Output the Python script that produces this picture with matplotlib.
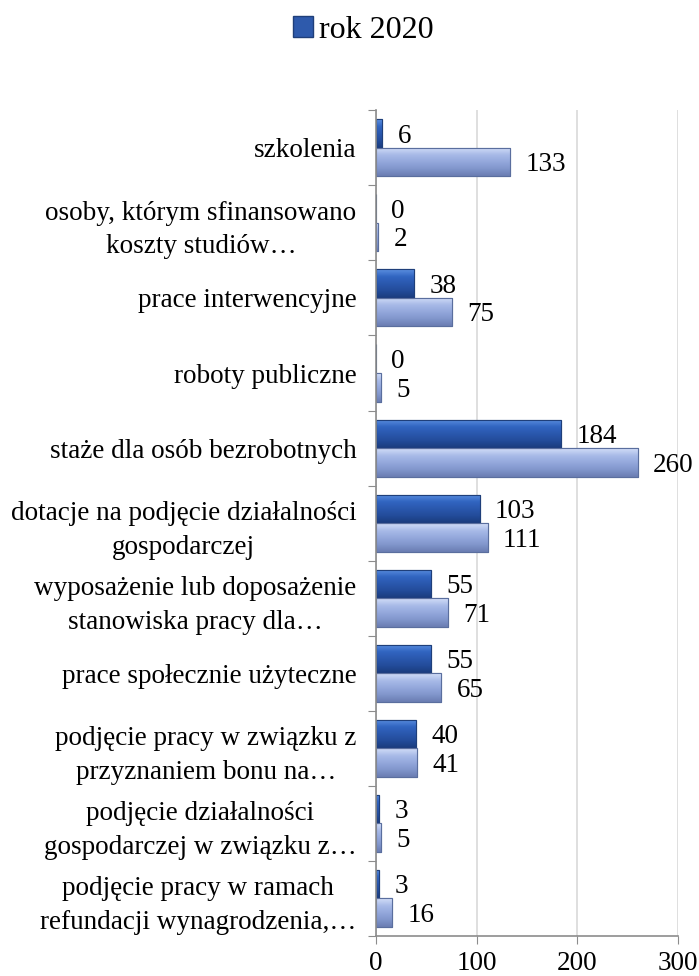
import matplotlib
matplotlib.use("Agg")
import matplotlib.pyplot as plt
from matplotlib.patches import Patch
from matplotlib.colors import LinearSegmentedColormap
import numpy as np

categories = [
    "szkolenia",
    "osoby, którym sfinansowano\nkoszty studiów…",
    "prace interwencyjne",
    "roboty publiczne",
    "staże dla osób bezrobotnych",
    "dotacje na podjęcie działalności\ngospodarczej",
    "wyposażenie lub doposażenie\nstanowiska pracy dla…",
    "prace społecznie użyteczne",
    "podjęcie pracy w związku z\nprzyznaniem bonu na…",
    "podjęcie działalności\ngospodarczej w związku z…",
    "podjęcie pracy w ramach\nrefundacji wynagrodzenia,…",
]
rok_2020 = [6, 0, 38, 0, 184, 103, 55, 55, 40, 3, 3]
rok_other = [133, 2, 75, 5, 260, 111, 71, 65, 41, 5, 16]
xticks = [0, 100, 200, 300]

plt.rcParams['font.family'] = ['Liberation Serif', 'DejaVu Serif']
FS = 19.5

fig = plt.figure(figsize=(6.99, 9.76), dpi=100)
ax = fig.add_axes([0.538, 0.041, 0.432, 0.846])

dark = '#2E5AAC'
dark_edge = '#1F3F7A'
light = '#8EA3D8'
light_edge = '#5A6E9E'

cmap_dark = LinearSegmentedColormap.from_list(
    'd', ['#5C8FE0', '#3266C2', '#2A58AE', '#234C9A', '#1B3C7E'])
cmap_light = LinearSegmentedColormap.from_list(
    'l', ['#D3DEF7', '#A9BBE8', '#94A8DC', '#8196CC', '#6A7DB2'])

y = np.arange(len(categories))
h = 0.38
b1 = ax.barh(y - h / 2, rok_2020, height=h, color=dark, edgecolor=dark_edge, linewidth=0.8, zorder=3)
b2 = ax.barh(y + h / 2, rok_other, height=h, color=light, edgecolor=light_edge, linewidth=0.8, zorder=3)

grad = np.linspace(0, 1, 64).reshape(-1, 1)
for bars, cm in ((b1, cmap_dark), (b2, cmap_light)):
    for bar in bars:
        x0, y0 = bar.get_x(), bar.get_y()
        w, hh = bar.get_width(), bar.get_height()
        if w <= 0:
            continue
        im = ax.imshow(grad, cmap=cm, aspect='auto',
                       extent=(x0, x0 + w, y0 + hh, y0), zorder=3.5,
                       interpolation='bicubic')
        im.set_clip_path(bar)
        ax.add_patch(plt.Rectangle((x0, y0), w, hh, fill=False,
                                   edgecolor=bar.get_edgecolor(), linewidth=0.8, zorder=4))

for bars, vals in ((b1, rok_2020), (b2, rok_other)):
    for bar, v in zip(bars, vals):
        ax.annotate(str(v), xy=(v, bar.get_y() + bar.get_height() / 2),
                    xytext=(11, -2), textcoords='offset points',
                    ha='left', va='center', fontsize=FS, color='black', zorder=5)

ax.set_xlim(0, 300)
ax.set_ylim(len(categories) - 0.5, -0.5)
ax.set_xticks(xticks)
ax.set_xticklabels([str(t) for t in xticks], fontsize=FS)
ax.tick_params(axis='x', length=6, color='#8C8C8C', pad=5)

ax.set_yticks(np.arange(len(categories) + 1) - 0.5)
ax.set_yticklabels([])
ax.set_yticks(y, minor=True)
ax.set_yticklabels(categories, minor=True, fontsize=FS, multialignment='center',
                   linespacing=1.45, va='center_baseline')
ax.tick_params(axis='y', which='major', length=6, color='#8C8C8C')
ax.tick_params(axis='y', which='minor', length=0, pad=14)

ax.xaxis.grid(True, color='#D9D9D9', linewidth=1.2, zorder=0)
ax.set_axisbelow(True)
for s in ['top', 'right']:
    ax.spines[s].set_visible(False)
for s in ['left', 'bottom']:
    ax.spines[s].set_color('#8C8C8C')
    ax.spines[s].set_linewidth(1.2)
    ax.spines[s].set_zorder(6)

fig.legend(handles=[Patch(facecolor=dark, edgecolor=dark_edge, label='rok 2020')],
           loc='center', bbox_to_anchor=(0.52, 0.969), frameon=False,
           fontsize=23, handlelength=0.6, handleheight=0.6, handletextpad=0.2)

fig.savefig('out.png', dpi=100)
